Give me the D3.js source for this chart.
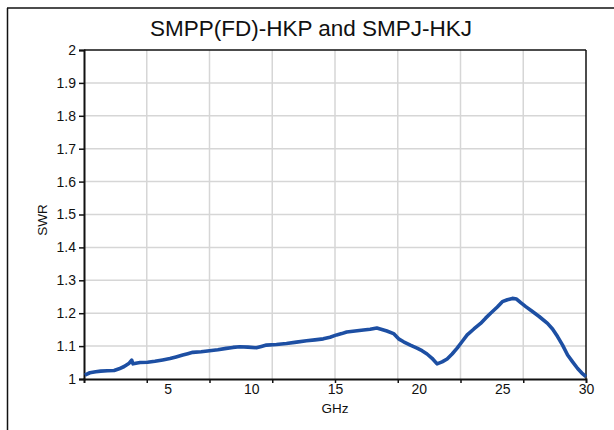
<!DOCTYPE html>
<html>
<head>
<meta charset="utf-8">
<script src="https://cdn.jsdelivr.net/npm/d3@7"></script>
<style>
html,body{margin:0;padding:0;background:#fff;}
svg text{font-family:"Liberation Sans",Arial,Helvetica,sans-serif;fill:#111;}
</style>
</head>
<body>
<svg id="chart" width="614" height="430"></svg>
<script>
const title = "SMPP(FD)-HKP and SMPJ-HKJ";
const xLabel = "GHz";
const yLabel = "SWR";
const xTickLabels = [5, 10, 15, 20, 25, 30];
const xGridTicks = [3.75, 7.5, 11.25, 15, 18.75, 22.5, 26.25];
const yTicks = [1, 1.1, 1.2, 1.3, 1.4, 1.5, 1.6, 1.7, 1.8, 1.9, 2];

const freq = [0.05, 0.35, 0.7, 1.0, 1.4, 1.8, 2.1, 2.4, 2.7, 2.85, 2.93, 3.1, 3.35, 3.8, 4.24, 4.7, 5.14, 5.5, 5.9, 6.2, 6.5, 7.0, 7.5, 8.0, 8.5, 8.9, 9.3, 9.8, 10.3, 10.6, 10.9, 11.5, 12.1, 12.7, 13.3, 13.8, 14.3, 14.7, 15.1, 15.4, 15.7, 16.2, 16.7, 17.1, 17.5, 17.7, 18.1, 18.5, 18.8, 19.1, 19.5, 19.9, 20.2, 20.5, 20.8, 21.1, 21.4, 21.7, 22.0, 22.3, 22.6, 22.9, 23.3, 23.7, 24.0, 24.3, 24.7, 25.0, 25.3, 25.6, 25.85, 26.1, 26.4, 26.8, 27.2, 27.7, 28.0, 28.3, 28.6, 28.9, 29.2, 29.5, 29.75, 30.0];
const swr  = [1.012, 1.019, 1.022, 1.024, 1.025, 1.026, 1.031, 1.038, 1.048, 1.057, 1.046, 1.048, 1.05, 1.051, 1.054, 1.058, 1.062, 1.067, 1.073, 1.077, 1.081, 1.083, 1.086, 1.089, 1.093, 1.096, 1.098, 1.097, 1.095, 1.099, 1.103, 1.105, 1.108, 1.112, 1.116, 1.119, 1.122, 1.127, 1.134, 1.138, 1.143, 1.146, 1.149, 1.151, 1.155, 1.152, 1.146, 1.138, 1.122, 1.113, 1.103, 1.094, 1.086, 1.076, 1.063, 1.046, 1.052, 1.061, 1.076, 1.094, 1.114, 1.134, 1.152, 1.169, 1.185, 1.2, 1.219, 1.235, 1.241, 1.245, 1.243, 1.232, 1.22, 1.205, 1.19, 1.169, 1.152, 1.129, 1.103, 1.073, 1.052, 1.032, 1.018, 1.007];

const svg = d3.select("#chart");
const W = 614, H = 430;
const m = {left: 84, top: 50, right: 586, bottom: 379};

// outer frame
svg.append("line").attr("x1", 7).attr("x2", W).attr("y1", 8).attr("y2", 8).attr("stroke", "#111").attr("stroke-width", 1.5);
svg.append("line").attr("x1", 7.5).attr("x2", 7.5).attr("y1", 8).attr("y2", H).attr("stroke", "#111").attr("stroke-width", 1.5);

const x = d3.scaleLinear().domain([0, 30]).range([m.left, m.right]);
const y = d3.scaleLinear().domain([1, 2]).range([m.bottom, m.top]);

// grid
svg.append("g").selectAll("line").data(xGridTicks).join("line")
  .attr("x1", d => x(d)).attr("x2", d => x(d)).attr("y1", m.top).attr("y2", m.bottom)
  .attr("stroke", "#d6d6d6").attr("stroke-width", 1.5);
svg.append("g").selectAll("line").data(yTicks.slice(1, -1)).join("line")
  .attr("x1", m.left).attr("x2", m.right).attr("y1", d => y(d)).attr("y2", d => y(d))
  .attr("stroke", "#d6d6d6").attr("stroke-width", 1.5);

// plot border (top, right)
svg.append("line").attr("x1", m.left).attr("x2", m.right).attr("y1", m.top).attr("y2", m.top).attr("stroke", "#111").attr("stroke-width", 1.5);
svg.append("line").attr("x1", m.right).attr("x2", m.right).attr("y1", m.top).attr("y2", m.bottom).attr("stroke", "#111").attr("stroke-width", 1.5);

// y axis
const yAxis = d3.axisLeft(y).tickValues(yTicks).tickFormat(d3.format("~g")).tickSize(5).tickPadding(3);
const gy = svg.append("g").attr("transform", `translate(${m.left},0)`).call(yAxis);
gy.select(".domain").attr("stroke", "#111").attr("stroke-width", 2);
gy.selectAll(".tick line").attr("stroke", "#111").attr("stroke-width", 1.5);
gy.selectAll(".tick text").style("font-size", "14px").style("font-family", "Liberation Sans, Arial, sans-serif").attr("fill", "#111");

// x axis: tick marks at grid positions, labels at 5 GHz steps
const xAxisMarks = d3.axisBottom(x).tickValues(xGridTicks).tickFormat("").tickSize(4);
const gx = svg.append("g").attr("transform", `translate(0,${m.bottom})`).call(xAxisMarks);
gx.select(".domain").attr("stroke", "#111").attr("stroke-width", 2);
gx.selectAll(".tick line").attr("stroke", "#111").attr("stroke-width", 1.5);

const xAxisLabels = d3.axisBottom(x).tickValues(xTickLabels).tickFormat(d3.format("d")).tickSize(0).tickPadding(5);
const gx2 = svg.append("g").attr("transform", `translate(0,${m.bottom})`).call(xAxisLabels);
gx2.select(".domain").remove();
gx2.selectAll(".tick text").style("font-size", "14px").style("font-family", "Liberation Sans, Arial, sans-serif").attr("fill", "#111");

// curve
const pts = freq.map((f, i) => [f, swr[i]]);
svg.append("path").datum(pts)
  .attr("fill", "none").attr("stroke", "#1d4fa3").attr("stroke-width", 3.6)
  .attr("stroke-linejoin", "round")
  .attr("d", d3.line().x(d => x(d[0])).y(d => y(d[1])));

// title
svg.append("text").attr("x", 311).attr("y", 36).attr("text-anchor", "middle")
  .style("font-size", "22.5px").text(title);

// axis labels
svg.append("text").attr("x", (m.left + m.right) / 2).attr("y", 413).attr("text-anchor", "middle")
  .style("font-size", "13.5px").text(xLabel);
svg.append("text").attr("transform", "translate(47,220) rotate(-90)").attr("text-anchor", "middle")
  .style("font-size", "13.5px").text(yLabel);
</script>
</body>
</html>
